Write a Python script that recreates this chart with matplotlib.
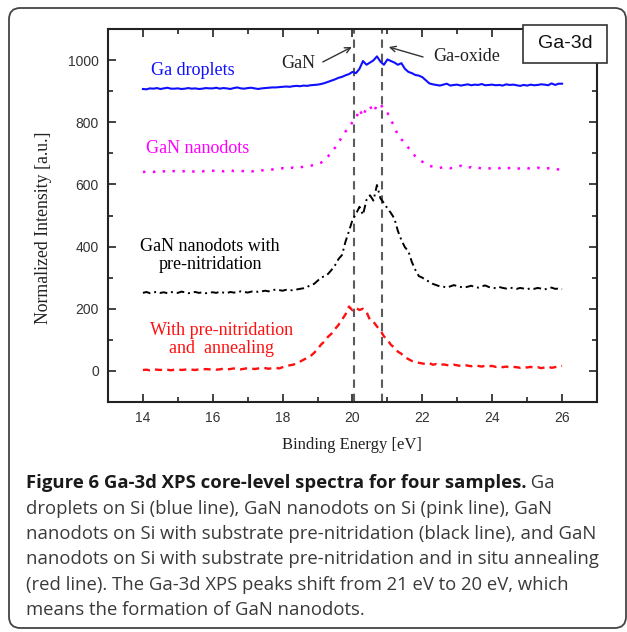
import numpy as np
import matplotlib
matplotlib.use("Agg")
import matplotlib.pyplot as plt
from matplotlib.ticker import MultipleLocator
from matplotlib.patches import Rectangle, FancyBboxPatch

# ---------------- data ----------------
energy = np.round(np.arange(14.0, 26.05, 0.1), 1)  # binding energy grid (eV), 0.1 eV step

ga_droplets = [
    907, 906, 909, 908, 910, 907, 909, 911, 908, 908, 909, 907, 908, 910, 908, 909, 907, 908, 910, 909,
    909, 911, 908, 910, 909, 907, 910, 912, 909, 908, 910, 911, 909, 907, 909, 910, 911, 912, 912, 913,
    914, 915, 914, 916, 917, 916, 918, 917, 919, 920,
    921, 923, 926, 930, 934, 938, 943, 946, 951, 955,
    962, 958, 972, 997, 985, 992, 999, 1012, 995, 985,
    1002, 997, 992, 985, 990, 972, 962, 958, 952, 950,
    945, 935, 925, 922, 920, 918, 921, 924, 918, 920,
    921, 918, 920, 922, 919, 921, 920, 923, 919, 920,
    921, 919, 920, 918, 922, 920, 921, 919, 917, 920,
    918, 921, 919, 920, 922, 921, 919, 925, 920, 924,
    924,
]

gan_nanodots = [
    640, 641, 642, 640, 643, 641, 642, 644, 641, 643, 642, 641, 643, 645, 642, 641, 643, 642, 644, 643,
    644, 643, 645, 642, 644, 646, 643, 645, 644, 642, 644, 643, 641, 642, 645, 646, 647, 648, 650, 651,
    652, 650, 653, 654, 652, 655, 657, 658, 660, 663,
    667, 670, 678, 690, 705, 718, 735, 753, 770, 785,
    800, 812, 842, 818, 848, 852, 832, 855, 860, 838,
    830, 808, 785, 759, 745, 733, 718, 705, 690, 680,
    673, 666, 660, 657, 655, 653, 656, 654, 652, 655,
    657, 660, 655, 653, 656, 652, 654, 651, 653, 652,
    650, 653, 652, 655, 651, 653, 654, 650, 652, 651,
    653, 650, 652, 654, 651, 650, 652, 649, 651, 648,
    647,
]

gan_prenitridation = [
    251, 254, 250, 252, 255, 251, 253, 250, 254, 252, 251, 255, 253, 250, 252, 254, 251, 253, 250, 252,
    253, 251, 255, 252, 250, 254, 252, 253, 256, 254, 252, 255, 257, 254, 256, 258, 256, 259, 262, 260,
    258, 261, 259, 260, 262, 264, 266, 270, 276, 280,
    290, 300, 305, 312, 325, 340, 360, 373, 416, 450,
    486, 505, 528, 502, 550, 565, 548, 598, 555, 540,
    523, 508, 490, 450, 421, 398, 385, 350, 325, 305,
    300, 292, 287, 280, 276, 272, 271, 268, 272, 276,
    273, 270, 268, 271, 274, 270, 268, 272, 275, 270,
    268, 266, 270, 267, 265, 268, 266, 264, 267, 265,
    263, 266, 264, 267, 265, 262, 266, 268, 264, 265,
    263,
]

prenitridation_annealing = [
    3, 4, 2, 5, 4, 3, 5, 4, 2, 4, 5, 3, 4, 6, 4, 3, 5, 4, 6, 5,
    6, 4, 5, 7, 5, 6, 8, 6, 5, 7, 9, 8, 6, 8, 10, 9, 7, 9, 10, 8,
    12, 15, 18, 20, 24, 30, 36, 42, 48, 58,
    70, 85, 95, 110, 120, 135, 148, 165, 182, 207,
    195, 203, 196, 200, 190, 164, 158, 143, 130, 111,
    100, 84, 75, 62, 55, 44, 38, 32, 28, 26,
    24, 22, 25, 20, 22, 18, 21, 19, 17, 20,
    18, 16, 19, 17, 15, 18, 16, 14, 17, 15,
    16, 13, 15, 12, 14, 11, 13, 12, 10, 13,
    11, 13, 10, 12, 9, 11, 14, 10, 12, 15,
    16,
]

ref_lines = [20.05, 20.85]   # GaN and Ga-oxide reference positions (eV)

xticks = [14, 16, 18, 20, 22, 24, 26]
yticks = [0, 200, 400, 600, 800, 1000]

caption_bold = "Figure 6 Ga-3d XPS core-level spectra for four samples."
caption_lines = [
    " Ga",
    "droplets on Si (blue line), GaN nanodots on Si (pink line), GaN",
    "nanodots on Si with substrate pre-nitridation (black line), and GaN",
    "nanodots on Si with substrate pre-nitridation and in situ annealing",
    "(red line). The Ga-3d XPS peaks shift from 21 eV to 20 eV, which",
    "means the formation of GaN nanodots.",
]

# ---------------- figure ----------------
W, H = 627, 632
fig = plt.figure(figsize=(W / 100, H / 100), dpi=100)
fig.patch.set_facecolor("white")

def fx(px):
    return px / W

def fy(py):
    return (H - py) / H

ax_l, ax_r, ax_t, ax_b = 108, 597, 29, 402
ax = fig.add_axes([fx(ax_l), fy(ax_b), (ax_r - ax_l) / W, (ax_b - ax_t) / H])

serif = "Liberation Serif"
sans = "Liberation Sans"

ax.plot(energy, ga_droplets, color="#1010ff", lw=1.5, ls="-")
ax.plot(energy, gan_nanodots, color="#ff00ff", lw=1.8, ls=(0, (1, 3)))
ax.plot(energy, gan_prenitridation, color="black", lw=1.4, ls=(0, (4, 2, 1, 2)))
ax.plot(energy, prenitridation_annealing, color="#ff1010", lw=1.7, ls=(0, (3, 2.2)))

for xv in ref_lines:
    ax.axvline(xv, color="#5c5c5c", lw=1.5, ls=(0, (4, 2.8)), zorder=1)

ax.set_xlim(13, 27)
ax.set_ylim(-100, 1100)
ax.set_xticks(xticks)
ax.set_yticks(yticks)
ax.xaxis.set_minor_locator(MultipleLocator(1))
ax.yaxis.set_minor_locator(MultipleLocator(100))
ax.tick_params(which="both", direction="in", top=True, right=True,
               width=1.2, color="#222222")
ax.tick_params(which="major", length=6, labelsize=10, labelcolor="#333333", pad=6.5)
ax.tick_params(which="minor", length=3.5)
for lab in ax.get_xticklabels() + ax.get_yticklabels():
    lab.set_family(sans)
for sp in ax.spines.values():
    sp.set_linewidth(1.5)
    sp.set_color("#222222")

ax.set_xlabel("Binding Energy [eV]", family=serif, fontsize=12, color="#222222",
              va="center", ha="center")
ax.xaxis.set_label_coords(0.499, (ax_b - 445) / (ax_b - ax_t))
ax.set_ylabel("Normalized Intensity [a.u.]", family=serif, fontsize=12.8, color="#222222",
              va="center", ha="center")
ax.yaxis.set_label_coords((44 - ax_l) / (ax_r - ax_l), (ax_b - 228) / (ax_b - ax_t))

# series labels
tfs = 13
ax.text(14.23, 965, "Ga droplets", color="#1010ff", family=serif, fontsize=tfs,
        ha="left", va="center")
ax.text(14.09, 714, "GaN nanodots", color="#ff00ff", family=serif, fontsize=tfs,
        ha="left", va="center")
ax.text(15.92, 371, "GaN nanodots with\npre-nitridation", color="black", family=serif,
        fontsize=tfs, ha="center", va="center", multialignment="center", linespacing=1.05)
ax.text(16.24, 101, "With pre-nitridation\nand  annealing", color="#ff1010", family=serif,
        fontsize=tfs, ha="center", va="center", multialignment="center", linespacing=1.05)

ax.text(17.95, 990, "GaN", color="#222222", family=serif, fontsize=tfs, ha="left", va="center")
ax.text(22.30, 1010, "Ga-oxide", color="#222222", family=serif, fontsize=tfs, ha="left", va="center")
ax.annotate("", xy=(19.98, 1042), xytext=(19.15, 994),
            arrowprops=dict(arrowstyle="->", color="#333333", lw=1.0, shrinkA=0, shrinkB=0))
ax.annotate("", xy=(21.04, 1042), xytext=(22.02, 1010),
            arrowprops=dict(arrowstyle="->", color="#333333", lw=1.0, shrinkA=0, shrinkB=0))

# Ga-3d box
bx0, by0, bx1, by1 = 523, 25, 607, 63
fig.patches.append(Rectangle((fx(bx0), fy(by1)), (bx1 - bx0) / W, (by1 - by0) / H,
                             transform=fig.transFigure, facecolor="white",
                             edgecolor="#333333", lw=1.2, zorder=5))
fig.text(fx((bx0 + bx1) / 2), fy((by0 + by1) / 2), "Ga-3d", family=sans, fontsize=14,
         color="#111111", ha="center", va="center", zorder=6)

# outer rounded frame
fig.patches.append(FancyBboxPatch((fx(9), fy(628)), (626 - 9) / W, (628 - 8) / H,
                                  boxstyle="round,pad=0,rounding_size=0.018",
                                  transform=fig.transFigure, facecolor="none",
                                  edgecolor="#444444", lw=1.3, zorder=0))

# caption, auto-fit font size to measured line width
cap_font = "Open Sans"
renderer = fig.canvas.get_renderer()
probe = fig.text(0, 0, caption_lines[3], family=cap_font, fontsize=12)
wpx = probe.get_window_extent(renderer).width
probe.remove()
cfs = 12 * (595 - 26) / wpx

cap_x = fx(26)
centers = [483, 508.5, 534, 559, 584.5, 610]
bold = fig.text(cap_x, fy(centers[0]), caption_bold, family=cap_font, fontsize=cfs,
                weight="bold", color="#1a1a1a", ha="left", va="center")
bw = bold.get_window_extent(renderer).x1
fig.text(bw / W, fy(centers[0]), caption_lines[0], family=cap_font, fontsize=cfs,
         color="#3a3a3a", ha="left", va="center")
for line, cy in zip(caption_lines[1:], centers[1:]):
    fig.text(cap_x, fy(cy), line, family=cap_font, fontsize=cfs, color="#3a3a3a",
             ha="left", va="center")

fig.savefig("out.png", dpi=100, facecolor="white")
